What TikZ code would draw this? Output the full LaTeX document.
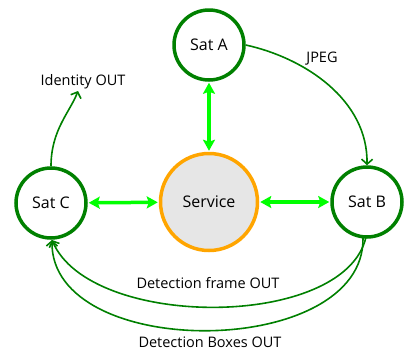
\documentclass[tikz,border=0pt]{standalone}
\usepackage{fontspec}
\setmainfont{Open Sans}
\usetikzlibrary{arrows.meta}
\definecolor{dgreen}{HTML}{008000}
\definecolor{bgreen}{HTML}{00FF00}
\definecolor{orng}{HTML}{FFA500}
\definecolor{lgray}{HTML}{E6E6E6}
\begin{document}
\begin{tikzpicture}[x=1pt,y=-1pt,
  sat/.style={circle,draw=dgreen,line width=3.5pt,minimum size=70pt,inner sep=0pt,font=\fontsize{16}{19}\selectfont},
  svc/.style={circle,draw=orng,fill=lgray,line width=3.5pt,minimum size=97pt,inner sep=0pt,font=\fontsize{16}{19}\selectfont},
  biarrow/.style={draw=bgreen,line width=3.5pt,{Stealth[length=11pt,width=12pt,inset=2pt]}-{Stealth[length=11pt,width=12pt,inset=2pt]},shorten >=1pt,shorten <=1pt},
  flow/.style={draw=dgreen,line width=1.6pt,-{Straight Barb[length=5pt,width=11pt]}},
  lbl/.style={inner sep=0pt,font=\fontsize{14.5}{17}\selectfont}]
\useasboundingbox (0,0) rectangle (404,354);
\node[sat] (A) at (209,45) {Sat A};
\node[svc] (S) at (209,202) {Service};
\node[sat] (B) at (367,202) {Sat B};
\node[sat] (C) at (51,203) {Sat C};
\draw[biarrow] (S) -- (A);
\draw[biarrow] (S) -- (B);
\draw[biarrow] (S) -- (C);
\coordinate (idout) at (78,91);
\node[lbl] (idl) at (83,82) {Identity OUT};
\draw[flow] (C.north) .. controls (51,130) and (70,112) .. (idout);
\node[lbl] (jpeg) at (322,59) {JPEG};
\draw[flow] (A.east) .. controls (305,58) and (368,100) .. (B.north);
\coordinate (bs1) at (366,237);
\coordinate (bs2) at (363,238);
\coordinate (ce) at (52,240);
\draw[flow] (bs1) .. controls (345,330) and (90,330) .. (ce);
\draw[flow] (bs2) .. controls (365,360) and (50,362) .. (ce);
\node[lbl] (dfl) at (208,283) {Detection frame OUT};
\node[lbl] (dbl) at (210,342) {Detection Boxes OUT};
\end{tikzpicture}
\end{document}
